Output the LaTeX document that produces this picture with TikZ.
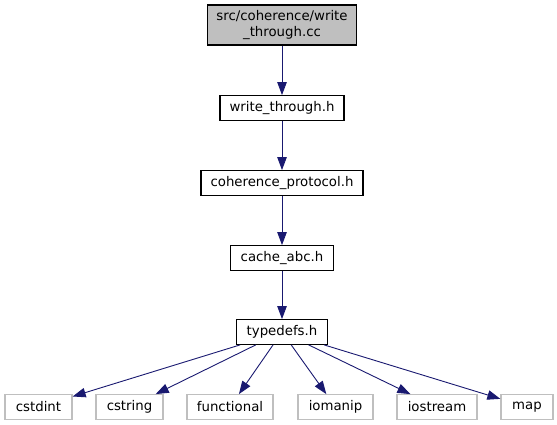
\documentclass[tikz,border=0pt]{standalone}
\usepackage{fontspec}
\setmainfont{DejaVu Sans}
\usepackage{tikz}
\usepackage{xcolor}
\usetikzlibrary{arrows.meta}

\definecolor{edgeblue}{HTML}{191970}
\definecolor{boxgray}{HTML}{BFBFBF}

\begin{document}
\begin{tikzpicture}[x=1pt,y=-1pt,
    every node/.style={font=\fontsize{13.3}{15.5}\selectfont, inner sep=0pt,
      minimum height=24.5pt, line width=1.3pt},
    file/.style={draw=black, fill=white},
    main/.style={draw=black, fill=boxgray, align=center, minimum height=40pt},
    sys/.style={draw=boxgray, fill=white},
    dep/.style={draw=edgeblue, line width=0.9pt, -{Triangle[length=13pt,width=9.5pt]}}]
    \useasboundingbox (0,0) rectangle (557,425);

    \node[main, minimum width=149pt] (src) at (282,25) {src/coherence/write\\\_through.cc};
    \node[file, minimum width=124pt] (wt) at (282,108) {write\_through.h};
    \node[file, minimum width=162pt] (cp) at (282,183) {coherence\_protocol.h};
    \node[file, minimum width=103pt] (cabc) at (282,258) {cache\_abc.h};
    \node[file, minimum width=91pt] (td) at (282,332) {typedefs.h};

    \node[sys, minimum width=67pt] (cstdint) at (38.5,407) {cstdint};
    \node[sys, minimum width=67pt] (cstring) at (129.5,407) {cstring};
    \node[sys, minimum width=86pt] (functional) at (230,407) {functional};
    \node[sys, minimum width=75pt] (iomanip) at (335.5,407) {iomanip};
    \node[sys, minimum width=80pt] (iostream) at (437,407) {iostream};
    \node[sys, minimum width=52pt] (map) at (527,407) {map};

    \draw[dep] (src) -- (wt);
    \draw[dep] (wt) -- (cp);
    \draw[dep] (cp) -- (cabc);
    \draw[dep] (cabc) -- (td);

    \draw[dep] (td) -- (cstdint);
    \draw[dep] (td) -- (cstring);
    \draw[dep] (td) -- (functional);
    \draw[dep] (td) -- (iomanip);
    \draw[dep] (td) -- (iostream);
    \draw[dep] (td) -- (map);
\end{tikzpicture}
\end{document}
